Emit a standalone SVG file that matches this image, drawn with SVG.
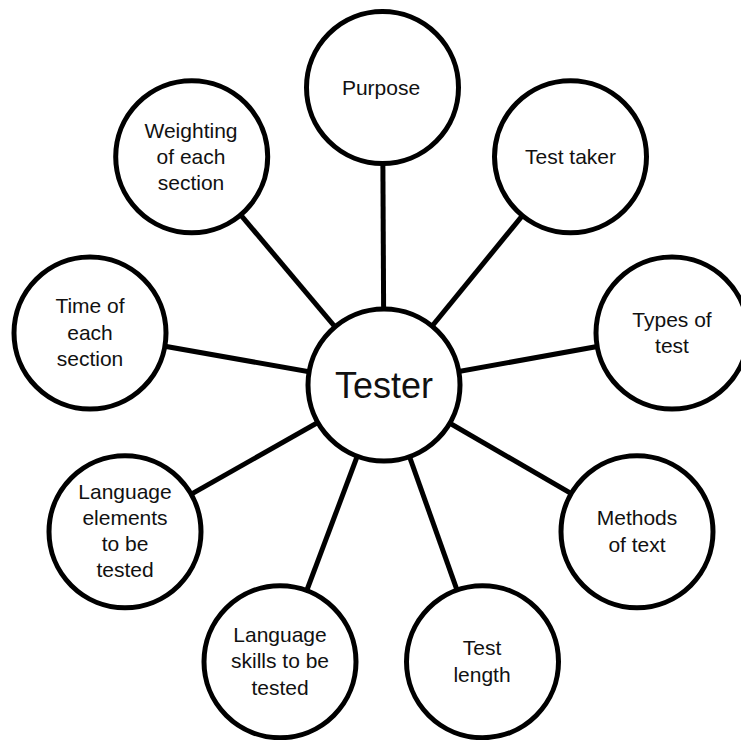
<svg xmlns="http://www.w3.org/2000/svg" width="741" height="740" viewBox="0 0 741 740">
<style>
.c{fill:#fff;stroke:#000;stroke-width:5}
.l{stroke:#000;stroke-width:5}
text{font-family:"Liberation Sans",Arial,sans-serif;font-size:21px;text-anchor:middle;fill:#111}
.big{font-size:36px}
</style>
<rect width="741" height="740" fill="#fff"/>
<g id="connectors">
<line class="l" x1="384" y1="385" x2="382.5" y2="87.5"/>
<line class="l" x1="384" y1="385" x2="570.5" y2="156.7"/>
<line class="l" x1="384" y1="385" x2="672" y2="333"/>
<line class="l" x1="384" y1="385" x2="637" y2="531.7"/>
<line class="l" x1="384" y1="385" x2="482.5" y2="661.7"/>
<line class="l" x1="384" y1="385" x2="280" y2="661.7"/>
<line class="l" x1="384" y1="385" x2="125" y2="531.7"/>
<line class="l" x1="384" y1="385" x2="90" y2="333"/>
<line class="l" x1="384" y1="385" x2="191.7" y2="156.7"/>
</g>
<g id="tester"><circle class="c" cx="384" cy="385" r="76"/><text class="big" x="384" y="398">Tester</text></g>
<g id="purpose"><circle class="c" cx="382.5" cy="87.5" r="76"/><text x="381" y="95">Purpose</text></g>
<g id="test-taker"><circle class="c" cx="570.5" cy="156.7" r="76"/><text x="570.5" y="164">Test taker</text></g>
<g id="types-of-test"><circle class="c" cx="672" cy="333" r="76"/><text x="672" y="327">Types of</text><text x="672" y="353">test</text></g>
<g id="methods-of-text"><circle class="c" cx="637" cy="531.7" r="76"/><text x="637" y="525">Methods</text><text x="637" y="551.5">of text</text></g>
<g id="test-length"><circle class="c" cx="482.5" cy="661.7" r="76"/><text x="482" y="655">Test</text><text x="482" y="681.5">length</text></g>
<g id="language-skills"><circle class="c" cx="280" cy="661.7" r="76"/><text x="280" y="641.5">Language</text><text x="280" y="668">skills to be</text><text x="280" y="694.5">tested</text></g>
<g id="language-elements"><circle class="c" cx="125" cy="531.7" r="76"/><text x="125" y="499">Language</text><text x="125" y="525">elements</text><text x="125" y="551">to be</text><text x="125" y="577">tested</text></g>
<g id="time-of-each-section"><circle class="c" cx="90" cy="333" r="76"/><text x="90" y="313">Time of</text><text x="90" y="339.5">each</text><text x="90" y="366">section</text></g>
<g id="weighting"><circle class="c" cx="191.7" cy="156.7" r="76"/><text x="191" y="137.5">Weighting</text><text x="191" y="163.5">of each</text><text x="191" y="189.5">section</text></g>
</svg>
